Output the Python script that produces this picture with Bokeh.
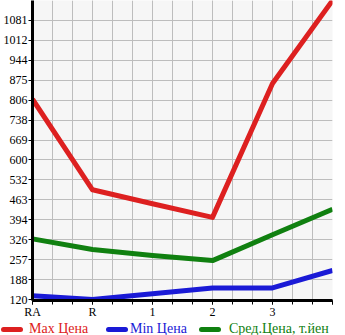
from bokeh.plotting import figure
from bokeh.layouts import column
from bokeh.models import FixedTicker, Range1d, Div
from bokeh.embed import file_html
from bokeh.resources import INLINE

categories = ["RA", "R", "1", "2", "3", ""]
max_price = [810, 498, 450, 403, 864, 1150]
min_price = [133, 120, 140, 160, 160, 220]
avg_price = [329, 292, 272, 254, 343, 431]
y_tick_values = [120 + k * (1150 - 120) / 15 for k in range(15)]
y_tick_labels = ["120", "188", "257", "326", "394", "463", "532", "600",
                 "669", "738", "806", "875", "944", "1012", "1081"]
series_names = ["Max Цена", "Min Цена", "Сред.Цена, т.йен"]
series_colors = ["#dd2020", "#1a1ad6", "#108010"]

xs = list(range(len(categories)))

p = figure(width=345, frame_width=300, frame_height=300,
           output_backend="svg", toolbar_location=None,
           x_range=Range1d(0, 5), y_range=Range1d(116.6, 1150),
           min_border_left=31, min_border_right=14, min_border_top=0,
           min_border_bottom=0)
p.background_fill_color = "#f6f6f6"
p.border_fill_color = "white"
p.outline_line_color = None

minor_x = [k / 3 for k in range(16)]
p.xaxis.ticker = FixedTicker(ticks=xs, minor_ticks=minor_x)
p.xaxis.major_label_overrides = {i: c for i, c in enumerate(categories)}
p.yaxis.ticker = FixedTicker(ticks=y_tick_values)
p.yaxis.major_label_overrides = {v: l for v, l in zip(y_tick_values, y_tick_labels)}

for ax in (p.xaxis[0], p.yaxis[0]):
    ax.axis_line_width = 3
    ax.axis_line_color = "black"
    ax.major_tick_line_color = "black"
    ax.minor_tick_line_color = "black"
    ax.major_tick_in = 0
    ax.minor_tick_in = 0
    ax.major_label_text_font = "Liberation Serif"
    ax.major_label_text_font_size = "12px"
    ax.major_label_text_color = "black"
p.yaxis.major_tick_out = 4
p.yaxis.minor_tick_line_color = None
p.yaxis.major_label_standoff = 1
p.xaxis.major_tick_out = 4
p.xaxis.minor_tick_out = 4
p.xaxis.major_label_standoff = 0

p.xgrid.grid_line_color = "#bdbdbd"
p.xgrid.minor_grid_line_color = "#bdbdbd"
p.ygrid.grid_line_color = "#bdbdbd"

for vals, col in zip([avg_price, min_price, max_price],
                     [series_colors[2], series_colors[1], series_colors[0]]):
    p.line(xs, vals, line_color=col, line_width=5, line_join="round")

swatch_left = [1, 106, 199]
text_left = [29, 130, 229]
parts = []
for name, col, sl, tl in zip(series_names, series_colors, swatch_left, text_left):
    parts.append(
        f'<span style="position:absolute;left:{sl}px;top:6px;width:22px;height:5px;'
        f'background:{col};border-radius:3px"></span>'
        f'<span style="position:absolute;left:{tl}px;top:1px;color:{col}">{name}</span>')
html = ('<div style="position:relative;width:345px;height:14px;'
        'font-family:\'Liberation Serif\';font-size:14px;line-height:14px;'
        'white-space:nowrap">' + "".join(parts) + '</div>')
leg = Div(text=html, width=345, height=14, margin=(0, 0, 0, 0))

layout = column(p, leg, spacing=0)
open("out.html", "w").write(file_html(layout, INLINE))
